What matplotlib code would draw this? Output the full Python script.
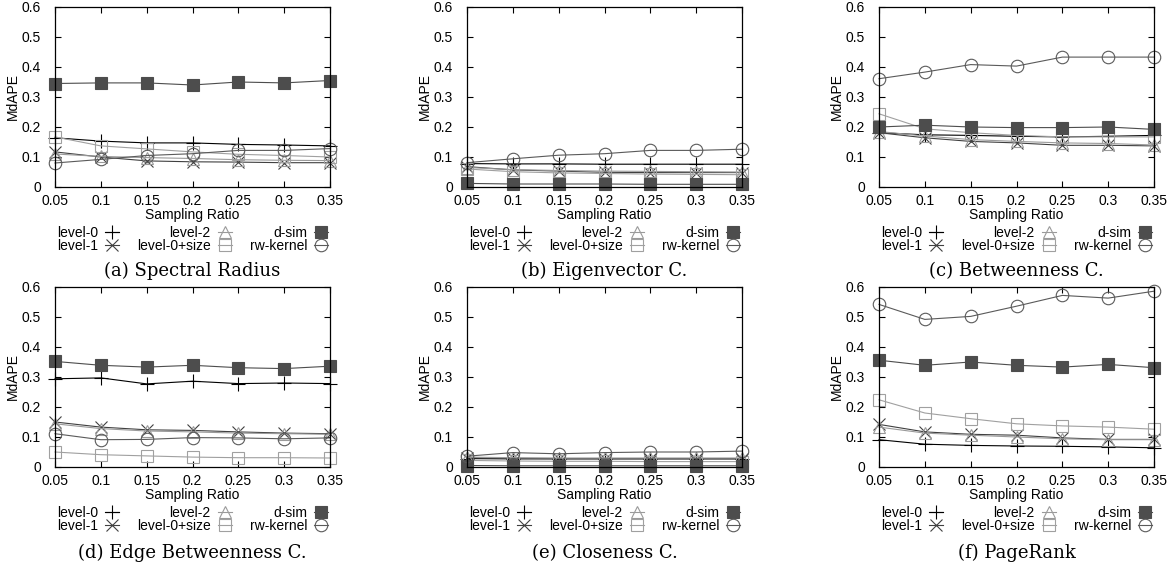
import numpy as np
from matplotlib import pyplot as plt

# x values shared by all panels
sampling_ratio = [0.05, 0.1, 0.15, 0.2, 0.25, 0.3, 0.35]
x_ticklabels = ["0.05", "0.1", "0.15", "0.2", "0.25", "0.3", "0.35"]
y_ticks = [0, 0.1, 0.2, 0.3, 0.4, 0.5, 0.6]
y_ticklabels = ["0", "0.1", "0.2", "0.3", "0.4", "0.5", "0.6"]

methods = ["level-0", "level-1", "level-2", "level-0+size", "d-sim", "rw-kernel"]
captions = ["(a) Spectral Radius", "(b) Eigenvector C.", "(c) Betweenness C.",
            "(d) Edge Betweenness C.", "(e) Closeness C.", "(f) PageRank"]

# MdAPE per method, rows in the order of `methods`
spectral_radius = [
    [0.164, 0.153, 0.147, 0.147, 0.142, 0.140, 0.137],
    [0.117, 0.100, 0.087, 0.084, 0.083, 0.081, 0.081],
    [0.110, 0.102, 0.098, 0.095, 0.091, 0.089, 0.088],
    [0.167, 0.137, 0.127, 0.117, 0.109, 0.105, 0.100],
    [0.345, 0.347, 0.347, 0.340, 0.350, 0.347, 0.355],
    [0.080, 0.092, 0.105, 0.111, 0.122, 0.122, 0.128],
]
eigenvector = [
    [0.078, 0.077, 0.077, 0.076, 0.076, 0.076, 0.076],
    [0.068, 0.057, 0.053, 0.049, 0.048, 0.048, 0.048],
    [0.065, 0.058, 0.055, 0.053, 0.052, 0.051, 0.050],
    [0.060, 0.051, 0.047, 0.045, 0.043, 0.042, 0.041],
    [0.012, 0.010, 0.010, 0.010, 0.009, 0.009, 0.009],
    [0.081, 0.094, 0.106, 0.111, 0.122, 0.122, 0.126],
]
betweenness = [
    [0.181, 0.174, 0.172, 0.169, 0.167, 0.169, 0.172],
    [0.181, 0.164, 0.152, 0.147, 0.139, 0.139, 0.137],
    [0.185, 0.170, 0.158, 0.152, 0.147, 0.145, 0.140],
    [0.244, 0.194, 0.181, 0.172, 0.167, 0.167, 0.167],
    [0.200, 0.206, 0.200, 0.198, 0.198, 0.200, 0.192],
    [0.361, 0.383, 0.408, 0.403, 0.433, 0.433, 0.433],
]
edge_betweenness = [
    [0.294, 0.297, 0.277, 0.286, 0.278, 0.280, 0.278],
    [0.150, 0.133, 0.124, 0.122, 0.117, 0.113, 0.111],
    [0.144, 0.128, 0.120, 0.117, 0.113, 0.111, 0.109],
    [0.050, 0.041, 0.037, 0.033, 0.031, 0.031, 0.030],
    [0.352, 0.339, 0.333, 0.339, 0.331, 0.328, 0.336],
    [0.111, 0.091, 0.092, 0.098, 0.097, 0.094, 0.097],
]
closeness = [
    [0.028, 0.027, 0.027, 0.027, 0.027, 0.027, 0.027],
    [0.031, 0.029, 0.028, 0.028, 0.028, 0.028, 0.028],
    [0.033, 0.031, 0.030, 0.030, 0.030, 0.030, 0.030],
    [0.022, 0.020, 0.019, 0.019, 0.018, 0.018, 0.018],
    [0.005, 0.004, 0.004, 0.004, 0.004, 0.004, 0.004],
    [0.036, 0.048, 0.044, 0.048, 0.050, 0.050, 0.053],
]
pagerank = [
    [0.091, 0.076, 0.072, 0.070, 0.069, 0.067, 0.064],
    [0.142, 0.117, 0.109, 0.106, 0.097, 0.092, 0.092],
    [0.133, 0.113, 0.106, 0.100, 0.094, 0.091, 0.091],
    [0.224, 0.180, 0.161, 0.144, 0.137, 0.133, 0.126],
    [0.356, 0.339, 0.350, 0.339, 0.333, 0.342, 0.331],
    [0.542, 0.492, 0.502, 0.536, 0.572, 0.563, 0.586],
]
panels = [spectral_radius, eigenvector, betweenness,
          edge_betweenness, closeness, pagerank]

# gnuplot-like monochrome styles: marker, colour, face colour, size
styles = [
    ("+", "#000000", "none", 10),
    ("x", "#404040", "none", 9),
    ("^", "#9a9a9a", "none", 9),
    ("s", "#a0a0a0", "none", 8.5),
    ("s", "#4d4d4d", "#4d4d4d", 8.5),
    ("o", "#5a5a5a", "none", 9),
]

plt.rcParams['font.family'] = ['Liberation Sans', 'DejaVu Sans']

W, H = 1175, 566
fig = plt.figure(figsize=(W / 100, H / 100), dpi=100)

col_left = [55, 467, 879]
row_top = [7, 287]
ax_w, ax_h = 275, 180
caption_base = [276, 558]

for i, data in enumerate(panels):
    r, c = divmod(i, 3)
    left, top = col_left[c], row_top[r]
    ax = fig.add_axes([left / W, 1 - (top + ax_h) / H, ax_w / W, ax_h / H])
    handles = []
    for name, y, (m, col, mfc, ms) in zip(methods, data, styles):
        h, = ax.plot(sampling_ratio, y, marker=m, color=col, mfc=mfc, mec=col,
                     ms=ms, mew=0.8, lw=0.8, clip_on=False, label=name)
        handles.append(h)
    ax.set_xlim(0.05, 0.35)
    ax.set_ylim(0, 0.6)
    ax.set_xticks(sampling_ratio)
    ax.set_xticklabels(x_ticklabels)
    ax.set_yticks(y_ticks)
    ax.set_yticklabels(y_ticklabels)
    ax.tick_params(direction='in', top=True, right=True, length=4, width=0.8,
                   labelsize=10)
    ax.tick_params(axis='x', pad=5)
    ax.tick_params(axis='y', pad=10)
    for sp in ax.spines.values():
        sp.set_linewidth(0.9)
    ax.set_xlabel("Sampling Ratio", fontsize=10, labelpad=0)
    ax.set_ylabel("MdAPE", fontsize=10, labelpad=1)
    ax.legend(handles=handles, ncol=3, loc='center', bbox_to_anchor=(0.5, -0.29),
              frameon=False, markerfirst=False, fontsize=10, handlelength=1.0,
              handletextpad=0.5, columnspacing=1.3, labelspacing=-0.1,
              borderpad=0)
    fig.text((left + ax_w / 2) / W, 1 - caption_base[r] / H, captions[i],
             ha='center', va='baseline', family='DejaVu Serif', fontsize=13)

fig.savefig("out.png", dpi=100)
